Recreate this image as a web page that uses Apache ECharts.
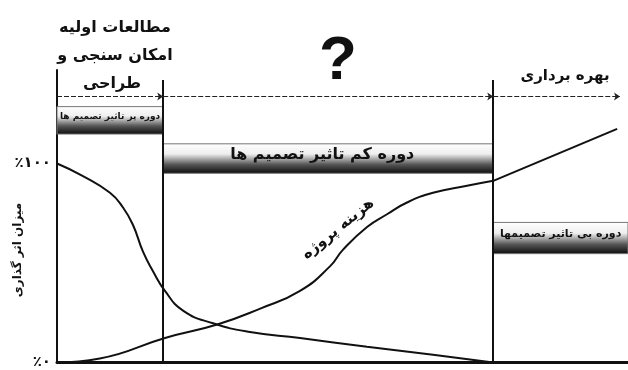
<!DOCTYPE html>
<html>
<head>
<meta charset="utf-8">
<script src="https://cdn.jsdelivr.net/npm/echarts@6/dist/echarts.min.js"></script>
<style>
  html, body { margin: 0; padding: 0; background: #fff; }
  #chart { width: 628px; height: 370px; }
</style>
</head>
<body>
<div id="chart"></div>
<script>
// زمان پروژه (۰ تا ۱۰۰) و میزان اثر گذاری (٪)
const influenceX = [0, 4.55, 9.28, 11.56, 13.31, 15.06, 16.81, 18.91, 22.07, 27.32, 33.8, 42.56, 54.29, 65.85, 76.4]
const influenceY = [100, 93.7, 85.3, 77.9, 69.1, 55.7, 45.9, 36.0, 26.1, 19.7, 15.3, 12.3, 7.9, 3.9, 0]

const costX = [0, 7.5, 18.91, 28.2, 35.6, 42.56, 47.8, 50.1, 54.3, 57.8, 61.3, 65.85, 71.8, 76.4]
const costY = [0, 2.0, 12.3, 19.2, 27.1, 36.0, 48.3, 56.7, 68.1, 74.5, 80.4, 85.3, 88.8, 91.3]

// بهره برداری
const operationX = [76.4, 98.1]
const operationY = [91.3, 117.4]

// مرز مراحل
const phaseBounds = [0, 18.6, 76.4, 98.6]
const yTicks = [0, 100]
const yTickLabels = ['٪۰', '٪۱۰۰']

const periodNames = ['دوره پر تاثیر تصمیم ها', 'دوره کم تاثیر تصمیم ها', 'دوره بی تاثیر تصمیمها']
const periodTop = [128.6, 109.9, 70.4]
const periodBottom = [114.8, 95.1, 54.7]

const toPairs = (xs, ys) => xs.map((x, i) => [x, ys[i]])

const font = 'DejaVu Sans'
const barFill = {
  type: 'linear', x: 0, y: 0, x2: 0, y2: 1,
  colorStops: [
    { offset: 0, color: '#ffffff' },
    { offset: 0.35, color: '#eeeeee' },
    { offset: 0.7, color: '#555555' },
    { offset: 1, color: '#0a0a0a' }
  ]
}
const periodFont = [9, 16, 11]

const chart = echarts.init(document.getElementById('chart'))

chart.setOption({
  animation: false,
  backgroundColor: '#fff',
  grid: { left: 57, right: 0, top: 70, bottom: 2 },
  xAxis: {
    type: 'value', min: 0, max: 100,
    axisLine: { show: true, onZero: false, lineStyle: { color: '#111', width: 3 } },
    axisTick: { show: false },
    axisLabel: { show: false },
    splitLine: { show: false }
  },
  yAxis: {
    type: 'value', min: 0, max: 147, interval: 100,
    axisLine: { show: true, lineStyle: { color: '#111', width: 2 } },
    axisTick: { show: false },
    splitLine: { show: false },
    axisLabel: {
      margin: 6,
      color: '#111',
      fontFamily: font,
      fontWeight: 'bold',
      fontSize: 15,
      formatter: v => {
        const i = yTicks.indexOf(v)
        return i >= 0 ? yTickLabels[i] : ''
      }
    }
  },
  series: [
    {
      name: 'influence',
      type: 'line',
      data: toPairs(influenceX, influenceY),
      smooth: 0.5,
      symbol: 'none',
      lineStyle: { color: '#111', width: 2 },
      markArea: {
        silent: true,
        itemStyle: { color: barFill, borderColor: '#777', borderWidth: 1 },
        data: periodNames.map((n, i) => [
          {
            xAxis: phaseBounds[i], yAxis: periodTop[i], name: n,
            label: {
              show: true, position: 'inside', color: '#111',
              fontFamily: font, fontWeight: 'bold', fontSize: periodFont[i],
              offset: [i === 1 ? -6 : 0, -4]
            }
          },
          { xAxis: phaseBounds[i + 1] + (i === 2 ? 10 : 0), yAxis: periodBottom[i] }
        ])
      },
      markLine: {
        silent: true,
        symbol: 'none',
        label: { show: false },
        data: [
          [{ coord: [phaseBounds[1], 0], lineStyle: { color: '#111', width: 2, type: 'solid' } },
           { coord: [phaseBounds[1], 142] }],
          [{ coord: [phaseBounds[2], 0], lineStyle: { color: '#111', width: 2, type: 'solid' } },
           { coord: [phaseBounds[2], 142] }],
          [{ coord: [phaseBounds[0], 133.7], symbol: 'none', lineStyle: { color: '#222', width: 1.2, type: [5, 2] } },
           { coord: [phaseBounds[1], 133.7], symbol: 'arrow', symbolSize: 6 }],
          [{ coord: [phaseBounds[1], 133.7], symbol: 'none', lineStyle: { color: '#222', width: 1.2, type: [5, 2] } },
           { coord: [phaseBounds[2], 133.7], symbol: 'arrow', symbolSize: 6 }],
          [{ coord: [phaseBounds[2], 133.7], symbol: 'none', lineStyle: { color: '#222', width: 1.2, type: [5, 2] } },
           { coord: [phaseBounds[3], 133.7], symbol: 'arrow', symbolSize: 6 }]
        ]
      }
    },
    {
      name: 'cost',
      type: 'line',
      data: toPairs(costX, costY),
      smooth: 0.5,
      symbol: 'none',
      lineStyle: { color: '#111', width: 2 }
    },
    {
      name: 'operation',
      type: 'line',
      data: toPairs(operationX, operationY),
      symbol: 'none',
      lineStyle: { color: '#111', width: 2 }
    }
  ],
  graphic: [
    { type: 'text', x: 115, y: 28, style: { text: 'مطالعات اولیه', font: 'bold 16px ' + font, fill: '#111', textAlign: 'center', textVerticalAlign: 'middle' } },
    { type: 'text', x: 115, y: 56, style: { text: 'امکان سنجی و', font: 'bold 16px ' + font, fill: '#111', textAlign: 'center', textVerticalAlign: 'middle' } },
    { type: 'text', x: 112, y: 84, style: { text: 'طراحی', font: 'bold 16px ' + font, fill: '#111', textAlign: 'center', textVerticalAlign: 'middle' } },
    { type: 'text', x: 338, y: 62, style: { text: '?', font: 'bold 62px Liberation Sans', fill: '#111', textAlign: 'center', textVerticalAlign: 'middle' } },
    { type: 'text', x: 565, y: 76, style: { text: 'بهره برداری', font: 'bold 15px ' + font, fill: '#111', textAlign: 'center', textVerticalAlign: 'middle' } },
    { type: 'text', x: 18, y: 250, rotation: Math.PI / 2, style: { text: 'میزان اثر گذاری', font: 'bold 12px ' + font, fill: '#111', textAlign: 'center', textVerticalAlign: 'middle' } },
    { type: 'text', x: 338, y: 229, rotation: 0.68, style: { text: 'هزینه پروژه', font: 'bold 15px ' + font, fill: '#111', textAlign: 'center', textVerticalAlign: 'middle' } }
  ]
})
</script>
</body>
</html>
